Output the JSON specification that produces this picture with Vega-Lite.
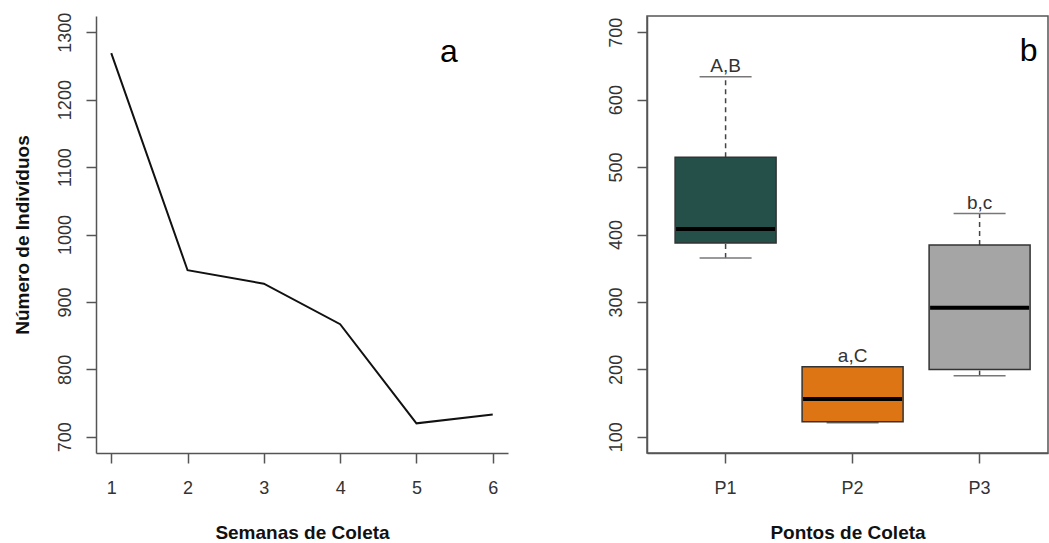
{
  "$schema": "https://vega.github.io/schema/vega-lite/v6.json",
  "padding": {"left": 13, "top": 12, "right": 0, "bottom": 0},
  "background": "white",
  "datasets": {
    "semanas": [
      {"semana": 1, "n": 1269},
      {"semana": 2, "n": 947},
      {"semana": 3, "n": 927},
      {"semana": 4, "n": 867},
      {"semana": 5, "n": 720},
      {"semana": 6, "n": 733}
    ],
    "pontos": [
      {"ponto": "P1", "lo": 365, "q1": 387.5, "med": 408, "q3": 514.5, "hi": 634, "letra": "A,B"},
      {"ponto": "P2", "lo": 121, "q1": 122.4, "med": 156, "q3": 204, "hi": 204, "letra": "a,C"},
      {"ponto": "P3", "lo": 190.7, "q1": 200, "med": 291.5, "q3": 384.6, "hi": 431, "letra": "b,c"}
    ]
  },
  "config": {
    "font": "Liberation Sans",
    "view": {"stroke": null},
    "axis": {
      "domainColor": "#555555",
      "domainWidth": 1.5,
      "tickColor": "#555555",
      "tickWidth": 1.5,
      "tickSize": 10,
      "labelFont": "Liberation Sans",
      "labelFontSize": 18,
      "labelColor": "#333333",
      "titleFont": "Liberation Sans",
      "titleFontSize": 19,
      "titleFontWeight": "bold",
      "titleColor": "#111111",
      "grid": false
    },
    "axisX": {"labelPadding": 16, "titlePadding": 26, "labelAngle": 0},
    "axisY": {"labelPadding": 12, "titlePadding": 24, "labelAngle": -90}
  },
  "hconcat": [
    {
      "width": 412,
      "height": 437,
      "layer": [
        {
          "data": {"name": "semanas"},
          "mark": {"type": "line", "color": "#111111", "strokeWidth": 2},
          "encoding": {
            "x": {"field": "semana", "type": "quantitative", "scale": {"domain": [0.8, 6.2], "nice": false, "zero": false}, "axis": {"values": [1, 2, 3, 4, 5, 6], "format": "d", "title": "Semanas de Coleta"}},
            "y": {"field": "n", "type": "quantitative", "scale": {"domain": [676, 1324], "nice": false, "zero": false}, "axis": {"values": [700, 800, 900, 1000, 1100, 1200, 1300], "format": "d", "title": "Número de Indivíduos"}}
          }
        },
        {
          "data": {"values": [{}]},
          "mark": {"type": "text", "text": "a", "fontSize": 32, "baseline": "alphabetic", "align": "center", "color": "#000000", "font": "Liberation Sans"},
          "encoding": {
            "x": {"datum": 5.426, "type": "quantitative"},
            "y": {"datum": 1256, "type": "quantitative"}
          }
        }
      ]
    },
    {
      "width": 401,
      "height": 437,
      "view": {"stroke": "#555555", "strokeWidth": 1.5},
      "data": {"name": "pontos"},
      "encoding": {
        "x": {"field": "ponto", "type": "nominal", "scale": {"type": "band", "paddingInner": 0, "paddingOuter": 0.0787, "align": 0.755}, "axis": {"title": "Pontos de Coleta"}}
      },
      "layer": [
        {
          "mark": {"type": "rule", "color": "#444444", "strokeWidth": 1.5, "strokeDash": [5, 4]},
          "encoding": {"y": {"field": "q3", "type": "quantitative", "scale": {"domain": [76, 724], "nice": false, "zero": false}, "axis": {"values": [100, 200, 300, 400, 500, 600, 700], "title": null}}, "y2": {"field": "hi"}}
        },
        {
          "mark": {"type": "rule", "color": "#444444", "strokeWidth": 1.5, "strokeDash": [5, 4]},
          "encoding": {"y": {"field": "lo", "type": "quantitative"}, "y2": {"field": "q1"}}
        },
        {
          "mark": {"type": "tick", "color": "#777777", "opacity": 1, "thickness": 1.5, "orient": "horizontal"},
          "encoding": {"y": {"field": "hi", "type": "quantitative"}, "size": {"value": 52}}
        },
        {
          "mark": {"type": "tick", "color": "#777777", "opacity": 1, "thickness": 1.5, "orient": "horizontal"},
          "encoding": {"y": {"field": "lo", "type": "quantitative"}, "size": {"value": 52}}
        },
        {
          "mark": {"type": "bar", "width": 101, "stroke": "#333333", "strokeWidth": 1.5, "opacity": 1},
          "encoding": {
            "y": {"field": "q1", "type": "quantitative"},
            "y2": {"field": "q3"},
            "color": {"field": "ponto", "type": "nominal", "scale": {"domain": ["P1", "P2", "P3"], "range": ["#25504A", "#DE7515", "#A5A5A5"]}, "legend": null}
          }
        },
        {
          "mark": {"type": "tick", "color": "#000000", "opacity": 1, "thickness": 4, "orient": "horizontal"},
          "encoding": {"y": {"field": "med", "type": "quantitative"}, "size": {"value": 99}}
        },
        {
          "mark": {"type": "text", "baseline": "alphabetic", "dy": -5, "fontSize": 19, "color": "#333333", "font": "Liberation Sans"},
          "encoding": {"y": {"field": "hi", "type": "quantitative"}, "text": {"field": "letra"}}
        },
        {
          "data": {"values": [{}]},
          "mark": {"type": "text", "text": "b", "fontSize": 32, "baseline": "alphabetic", "align": "center", "dx": 49, "color": "#000000", "font": "Liberation Sans"},
          "encoding": {
            "x": {"datum": "P3", "type": "nominal"},
            "y": {"datum": 657, "type": "quantitative"}
          }
        }
      ]
    }
  ],
  "spacing": 139,
  "bounds": "flush"
}
